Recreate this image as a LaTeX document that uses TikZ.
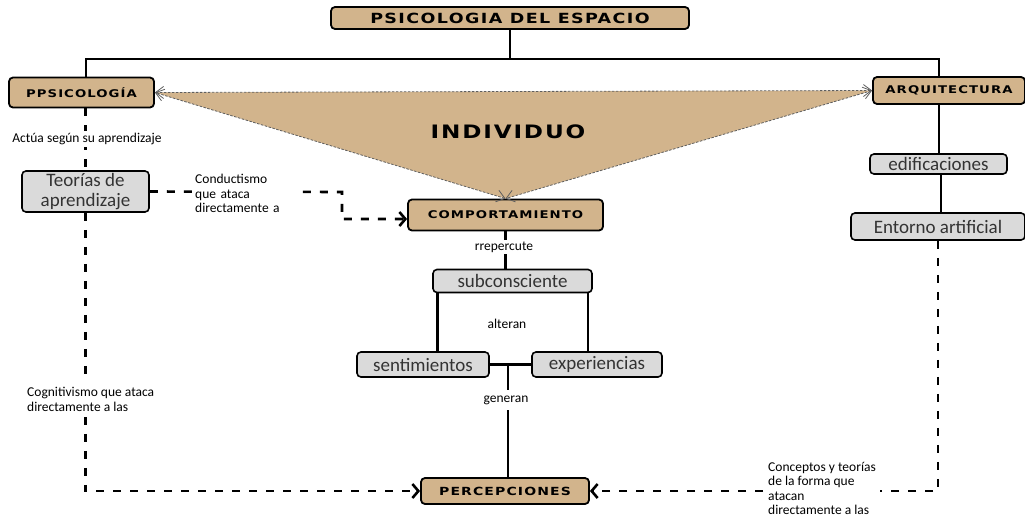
\documentclass[tikz,border=0pt]{standalone}
\usepackage{fontspec}
\setmainfont{Carlito}
\newfontfamily\capsfont[LetterSpace=10,FakeStretch=1.25]{DejaVu Sans}
\usetikzlibrary{arrows.meta,calc}
\definecolor{boxtan}{RGB}{210,180,140}
\definecolor{boxgrey}{RGB}{218,218,218}
\definecolor{edgegrey}{RGB}{95,95,95}

\begin{document}
\begin{tikzpicture}[x=1pt,y=-1pt,
	headbox/.style={draw,line width=1.8pt,rounded corners=4pt,fill=boxtan,inner sep=0pt,
		font=\capsfont\bfseries\fontsize{10.6}{12}\selectfont},
	notebox/.style={draw,line width=1.6pt,rounded corners=4pt,fill=boxgrey,inner sep=0pt,
		text=black!80,font=\fontsize{19}{19.5}\selectfont},
	lbl/.style={fill=white,inner sep=2pt,align=left,font=\fontsize{13.5}{14.5}\selectfont},
	link/.style={line width=2.6pt},
	dashlink/.style={line width=2.6pt,dash pattern=on 8pt off 9pt},
	tip/.style={-{Straight Barb[length=6pt,width=14pt]}},
	triline/.style={draw=edgegrey,line width=0.8pt,dash pattern=on 2.5pt off 1.5pt,
		{Straight Barb[length=8pt,width=12pt]}-{Straight Barb[length=8pt,width=12pt]}}]
	\useasboundingbox (0,0) rectangle (1025,525);

	% main boxes
	\node[headbox,minimum width=358,minimum height=22,font=\capsfont\bfseries\fontsize{14}{15}\selectfont] (title) at (510,18) {PSICOLOGIA DEL ESPACIO};
	\node[headbox,minimum width=145,minimum height=30] (psi) at (81.5,92.5) {PPSICOLOGÍA};
	\node[headbox,minimum width=152,minimum height=27] (arq) at (949,90.5) {ARQUITECTURA};
	\node[headbox,minimum width=195,minimum height=31] (comp) at (505.5,215) {COMPORTAMIENTO};
	\node[headbox,minimum width=168,minimum height=26,font=\capsfont\bfseries\fontsize{11.2}{12}\selectfont] (perc) at (505,491) {PERCEPCIONES};

	\node[notebox,minimum width=127,minimum height=41,align=center] (teo) at (85.5,191.5) {Teorías de\\aprendizaje};
	\node[notebox,minimum width=137,minimum height=20] (edif) at (938.5,164) {edificaciones};
	\node[notebox,minimum width=174,minimum height=27] (ent) at (938,226.5) {Entorno artificial};
	\node[notebox,minimum width=159,minimum height=23] (sub) at (512.5,281) {subconsciente};
	\node[notebox,minimum width=132,minimum height=25] (sent) at (423,364.5) {sentimientos};
	\node[notebox,minimum width=130,minimum height=25] (exp) at (597,364.5) {experiencias};

	% triangle
	\fill[boxtan] (psi.east) -- (arq.west) -- (comp.north) -- cycle;
	\draw[triline] (psi.east) -- (arq.west);
	\draw[triline] (arq.west) -- (comp.north);
	\draw[triline] (comp.north) -- (psi.east);
	\node[font=\capsfont\bfseries\fontsize{18.5}{20}\selectfont] (ind) at (508,132) {INDIVIDUO};

	% top tree
	\coordinate (hub) at (title.south |- 0,59);
	\draw[link] (title.south) -- (hub);
	\draw[link] ($(psi.north)+(4.5,0)$) |- (hub) -| ($(arq.north)+(-10,0)$);
	\draw[link] ($(arq.south)+(-10,0)$) -- ($(edif.north)+(0.5,0)$);
	\draw[link] ($(edif.south)+(2.5,0)$) -- ($(ent.north)+(3,0)$);

	% left side
	\draw[dashlink] (teo.north |- psi.south) -- (teo.north);
	\node[lbl] (act) at (87,139) {Actúa según su aprendizaje};
	\coordinate (bend) at (342,192);
	\draw[dashlink,tip] (teo.east) -- (bend) |- ($(comp.west)+(0,4)$);
	\node[lbl,anchor=west,text width=100] (cond) at (193,193.5) {Conductismo\\que ataca\\directamente a};
	\draw[dashlink,tip] (teo.south) |- (perc.west);
	\node[lbl,anchor=west,inner ysep=6pt] (cog) at (25,399.5) {Cognitivismo que ataca\\directamente a las};

	% centre
	\draw[link] (comp.south) -- (comp.south |- sub.north);
	\node[lbl] (rep) at (504,247) {rrepercute};
	\coordinate (sl) at ($(sub.south west)+(5,0)$);
	\coordinate (sr) at ($(sub.south east)+(-5,0)$);
	\draw[link] (sl) -- (sl |- sent.north);
	\draw[link] (sr) -- (sr |- exp.north);
	\node[lbl] (alt) at (507,324) {alteran};
	\draw[link] (sent.east) -- (exp.west);
	\coordinate (gen) at ($(sent.east)!0.44!(exp.west)$);
	\draw[link] (gen) -- (gen |- perc.north);
	\node[lbl,inner ysep=6pt] (genl) at (506,400) {generan};

	% right side
	\draw[dashlink,tip] (ent.south) |- (perc.east);
	\node[lbl,anchor=west,inner xsep=4pt] (conc) at (764,488.5) {Conceptos y teorías\\de la forma que\\atacan\\directamente a las};
\end{tikzpicture}
\end{document}
